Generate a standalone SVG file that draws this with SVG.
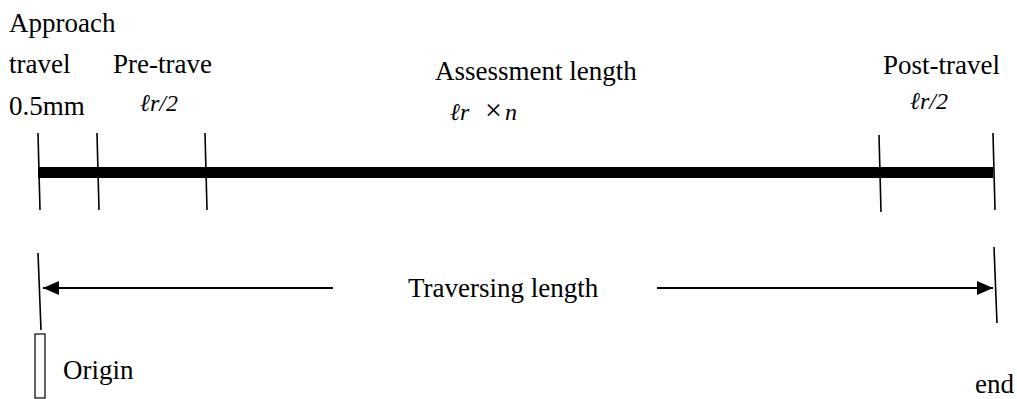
<svg xmlns="http://www.w3.org/2000/svg" width="1017" height="399" viewBox="0 0 1017 399">
  <style>
    text { fill: #000; }
    .t { font-size: 27px; }
    .m { font-style: italic; font-size: 24px; }
    .tick { stroke: #000; stroke-width: 1.6; fill: none; }
    .arr { stroke: #000; stroke-width: 2; fill: none; }
  </style>
  <defs>
    <marker id="ah" viewBox="0 0 16 14" refX="16" refY="7" markerWidth="16" markerHeight="14" markerUnits="userSpaceOnUse" orient="auto">
      <path d="M0,0 L16,7 L0,14 Z" fill="#000"/>
    </marker>
  </defs>
  <rect width="1017" height="399" fill="#fff"/>

  <g id="bar">
    <line x1="38" y1="172.5" x2="993" y2="172.5" stroke="#000" stroke-width="11"/>
    <line class="tick" x1="38" y1="133" x2="40" y2="210"/>
    <line class="tick" x1="97" y1="133" x2="99" y2="210"/>
    <line class="tick" x1="205" y1="133" x2="207" y2="210"/>
    <line class="tick" x1="879" y1="135" x2="881" y2="212"/>
    <line class="tick" x1="993" y1="133" x2="995" y2="210"/>
  </g>

  <g font-family="'Liberation Serif', 'Times New Roman', 'DejaVu Serif', serif">
    <g id="approach">
      <text class="t" x="9" y="32">Approach</text>
      <text class="t" x="9" y="73">travel</text>
      <text class="t" x="9" y="115">0.5mm</text>
    </g>
    <g id="pre-travel">
      <text class="t" x="113" y="73">Pre-trave</text>
      <text class="m" x="140" y="111">ℓr/2</text>
    </g>
    <g id="assessment">
      <text class="t" x="435" y="80">Assessment length</text>
      <text class="m" x="450" y="120">ℓr<tspan x="485" font-style="normal" font-size="30">×</tspan><tspan x="505">n</tspan></text>
    </g>
    <g id="post-travel">
      <text class="t" x="883" y="74">Post-travel</text>
      <text class="m" x="910" y="109">ℓr/2</text>
    </g>

    <g id="traversing">
      <line class="tick" x1="38" y1="253" x2="41" y2="330"/>
      <line class="tick" x1="994" y1="247" x2="997" y2="323"/>
      <text class="t" x="408" y="297">Traversing length</text>
    </g>

    <g id="origin">
      <rect x="35" y="334" width="10" height="64" fill="#fff" stroke="#000" stroke-width="1.2"/>
      <text class="t" x="63" y="379">Origin</text>
    </g>
    <g id="end">
      <text class="t" x="975" y="393">end</text>
    </g>
  </g>

  <g id="connectors">
    <line class="arr" x1="333" y1="288" x2="43" y2="288" marker-end="url(#ah)"/>
    <line class="arr" x1="657" y1="288" x2="993" y2="288" marker-end="url(#ah)"/>
  </g>
</svg>
